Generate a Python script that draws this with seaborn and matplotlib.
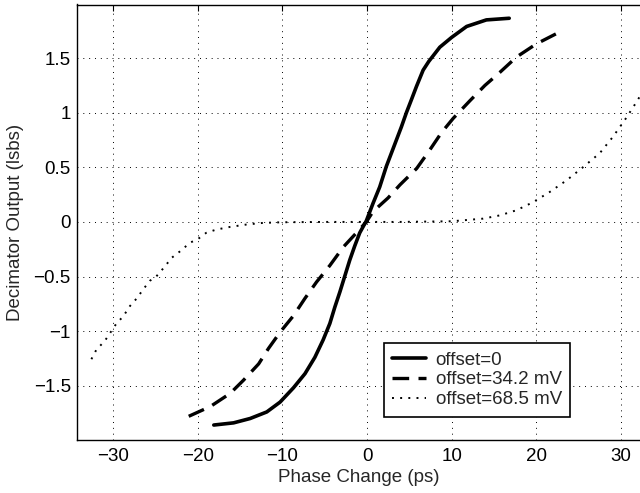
import seaborn as sns
import pandas as pd
import numpy as np
import matplotlib.pyplot as plt
from matplotlib.ticker import FuncFormatter

# data (phase change in ps, output in lsbs)
x_off0 = [-18.1, -15.76, -13.8, -11.84, -10.27, -8.7, -7.33, -6.16, -5.18, -4.39,
          -3.8, -3.2, -2.6, -2.04, -1.45, -0.86, -0.08, 0.71, 1.5, 2.29, 2.88,
          3.47, 4.06, 4.65, 5.25, 5.84, 6.63, 7.3, 8.6, 10.0, 11.77, 14.1, 16.8]
y_off0 = [-1.86, -1.84, -1.80, -1.74, -1.65, -1.52, -1.39, -1.24, -1.08, -0.93,
          -0.78, -0.64, -0.49, -0.35, -0.22, -0.10, 0.01, 0.17, 0.32, 0.51, 0.63,
          0.75, 0.87, 1.0, 1.12, 1.24, 1.39, 1.47, 1.60, 1.69, 1.79, 1.85, 1.865]

x_off34 = [-21.06, -18.5, -16.16, -14.6, -12.8, -11.65, -10.27, -8.7, -7.33, -5.96,
           -4.4, -2.8, -1.25, -0.08, 0.71, 2.49, 3.9, 5.87, 7.25, 8.82, 10.2,
           12.16, 13.93, 15.7, 17.66, 20.0, 22.4, 22.8]
y_off34 = [-1.78, -1.69, -1.57, -1.45, -1.30, -1.16, -1.01, -0.86, -0.70, -0.55,
           -0.40, -0.23, -0.10, 0.0, 0.095, 0.22, 0.34, 0.49, 0.64, 0.82, 0.95,
           1.11, 1.25, 1.37, 1.51, 1.63, 1.725, 1.74]

x_off68 = [-32.56, -31.97, -30.98, -30.2, -29.6, -28.8, -28.0, -27.2, -26.46, -25.67,
           -24.9, -23.9, -23.1, -22.1, -20.9, -19.96, -19.0, -17.8, -16.2, -14.25,
           -12.3, -10.0, -5.0, 0.0, 3.9, 10.0, 13.7, 15.7, 17.66, 19.6, 21.6, 23.56,
           25.5, 27.5, 29.06, 30.6, 31.6, 32.4]
y_off68 = [-1.257, -1.17, -1.09, -1.0, -0.93, -0.865, -0.77, -0.70, -0.62, -0.54,
           -0.50, -0.41, -0.33, -0.27, -0.19, -0.156, -0.10, -0.07, -0.046, -0.024,
           -0.009, -0.003, 0.0, 0.0, 0.0, 0.006, 0.03, 0.06, 0.107, 0.18, 0.275, 0.38,
           0.50, 0.63, 0.78, 0.95, 1.07, 1.17]

labels = ['offset=0', 'offset=34.2 mV', 'offset=68.5 mV']

sns.set_style('white')
plt.rcParams['font.family'] = ['Liberation Sans', 'DejaVu Sans']
fs = 13.5

fig = plt.figure(figsize=(6.4, 4.93), dpi=100)
ax = fig.add_axes([77 / 640, 1 - 440 / 493, 1 - 77 / 640, (440 - 4.5) / 493])

sns.lineplot(x=x_off0, y=y_off0, ax=ax, color='black', lw=2.6, sort=False,
             label=labels[0])
sns.lineplot(x=x_off34, y=y_off34, ax=ax, color='black', lw=2.4, sort=False,
             label=labels[1], linestyle=(0, (5.0, 2.8)))
sns.lineplot(x=x_off68, y=y_off68, ax=ax, color='black', lw=1.4, sort=False,
             label=labels[2], linestyle=(0, (1.0, 3.2)))

ax.set_xlim(-34.26, 32.25)
ax.set_ylim(-1.997, 1.991)
ax.set_xticks(np.arange(-30, 31, 10))
ax.set_yticks(np.arange(-1.5, 1.51, 0.5))
fmt = FuncFormatter(lambda v, p: f'{v:g}'.replace('-', '\u2212'))
ax.xaxis.set_major_formatter(fmt)
ax.yaxis.set_major_formatter(fmt)
ax.tick_params(direction='in', top=True, right=False, length=4, width=0.8,
               labelsize=fs, colors='black')
ax.tick_params(axis='x', pad=6)
ax.tick_params(axis='y', pad=4.5)
ax.grid(True, color='black', linestyle=(0, (1, 5)), linewidth=0.7)

for s in ['left', 'bottom', 'top']:
    ax.spines[s].set_color('black')
    ax.spines[s].set_linewidth(1.0)
ax.spines['right'].set_visible(False)

ax.set_xlabel('Phase Change (ps)', fontsize=fs, labelpad=3)
ax.set_ylabel('Decimator Output (lsbs)', fontsize=fs, labelpad=7)

leg = ax.legend(loc='upper left', bbox_to_anchor=(384 / 640, 1 - 343 / 493),
                bbox_transform=fig.transFigure, borderaxespad=0, fontsize=fs,
                frameon=True, fancybox=False, handlelength=1.8, handletextpad=0.5,
                labelspacing=0.15, borderpad=0.45)
leg.get_frame().set_edgecolor('black')
leg.get_frame().set_linewidth(1.2)
leg.get_frame().set_alpha(1)

plt.savefig('out.png', dpi=100)
